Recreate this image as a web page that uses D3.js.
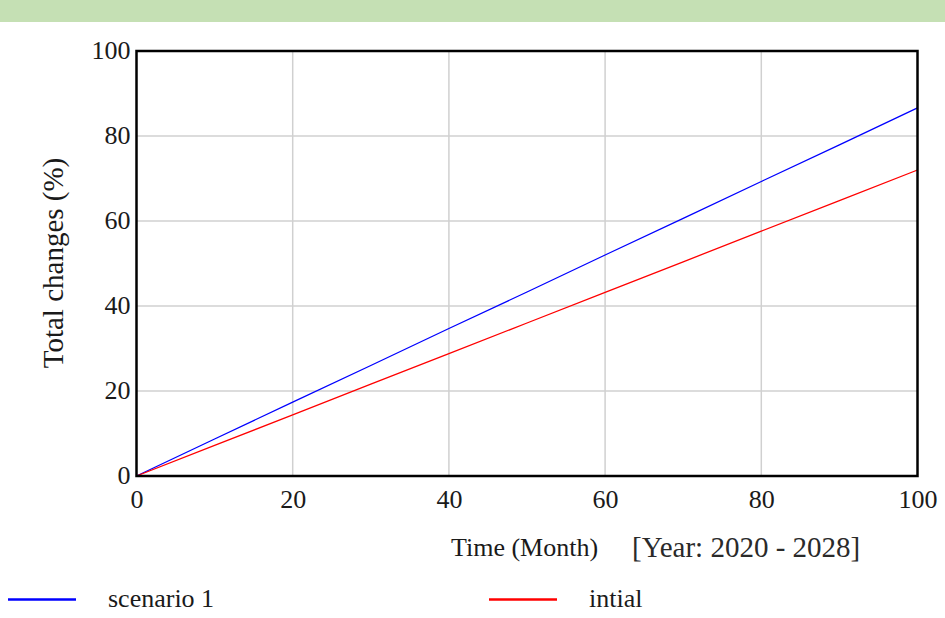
<!DOCTYPE html>
<html>
<head>
<meta charset="utf-8">
<script src="https://cdn.jsdelivr.net/npm/d3@7"></script>
<style>
  html, body { margin: 0; padding: 0; background: #fff; }
  svg { display: block; }
</style>
</head>
<body>
<svg id="chart" width="945" height="618"></svg>
<script>
const months = [0, 10, 20, 30, 40, 50, 60, 70, 80, 90, 100];
const scenario1 = [0, 8.7, 17.4, 26.0, 34.7, 43.3, 52.0, 60.6, 69.3, 77.9, 86.6];
const initial   = [0, 7.2, 14.4, 21.6, 28.8, 36.0, 43.2, 50.4, 57.6, 64.8, 72.0];
const xTicks = [0, 20, 40, 60, 80, 100];
const yTicks = [0, 20, 40, 60, 80, 100];
const seriesNames = ["scenario 1", "intial"];
const seriesColors = ["#0000ff", "#ff0000"];

(function () {
const svg = d3.select("#chart");
const font = "'Liberation Serif', 'Times New Roman', serif";
const textColor = "#1a1a1a";

// top green band
svg.append("rect").attr("x", 0).attr("y", 0).attr("width", 945).attr("height", 22)
  .attr("fill", "#c5e0b4");

const pL = 136.5, pR = 917.5, pT = 51, pB = 476;
const x = d3.scaleLinear().domain([0, 100]).range([pL, pR]);
const y = d3.scaleLinear().domain([0, 100]).range([pB, pT]);

// grid
const g = svg.append("g");
g.selectAll(".vg").data(xTicks.slice(1, -1)).enter().append("line")
  .attr("x1", d => x(d)).attr("x2", d => x(d)).attr("y1", pT).attr("y2", pB)
  .attr("stroke", "#d0d0d0").attr("stroke-width", 1.5);
g.selectAll(".hg").data(yTicks.slice(1, -1)).enter().append("line")
  .attr("y1", d => y(d)).attr("y2", d => y(d)).attr("x1", pL).attr("x2", pR)
  .attr("stroke", "#d0d0d0").attr("stroke-width", 1.5);

// lines
const line = d3.line().x((d, i) => x(months[i])).y(d => y(d));
[scenario1, initial].forEach((s, k) => {
  svg.append("path").datum(s).attr("d", line)
    .attr("fill", "none").attr("stroke", seriesColors[k]).attr("stroke-width", 1.3);
});

// frame
svg.append("rect").attr("x", pL).attr("y", pT).attr("width", pR - pL).attr("height", pB - pT)
  .attr("fill", "none").attr("stroke", "#000").attr("stroke-width", 2.5);

// axes (labels only)
const xAxis = d3.axisBottom(x).tickValues(xTicks).tickSize(0).tickPadding(8);
const xa = svg.append("g").attr("transform", `translate(0,${pB})`).call(xAxis);
xa.select(".domain").remove();
xa.attr("font-family", font).attr("font-size", 26);
xa.selectAll("text").attr("fill", textColor).attr("dy", null).attr("y", 32);

const yAxis = d3.axisLeft(y).tickValues(yTicks).tickSize(0).tickPadding(8);
const ya = svg.append("g").attr("transform", `translate(${pL},0)`).call(yAxis);
ya.select(".domain").remove();
ya.attr("font-family", font).attr("font-size", 26);
ya.selectAll("text").attr("fill", textColor).attr("x", -6).attr("dy", "0.3em");

// axis titles
svg.append("text").attr("transform", "translate(63,263) rotate(-90)")
  .attr("text-anchor", "middle").attr("font-family", font).attr("font-size", 29)
  .attr("fill", textColor).text("Total changes (%)");

svg.append("text").attr("x", 451).attr("y", 556)
  .attr("font-family", font).attr("font-size", 26).attr("fill", textColor).text("Time (Month)");
svg.append("text").attr("x", 632).attr("y", 557)
  .attr("font-family", font).attr("font-size", 29).attr("fill", "#2a2a2a").text("[Year: 2020 - 2028]");

// legend
const legendX = [8, 489];
seriesNames.forEach((name, k) => {
  svg.append("line").attr("x1", legendX[k]).attr("x2", legendX[k] + 68)
    .attr("y1", 599.5).attr("y2", 599.5).attr("stroke", seriesColors[k]).attr("stroke-width", 2.5);
  svg.append("text").attr("x", legendX[k] + 100).attr("y", 607)
    .attr("font-family", font).attr("font-size", 26).attr("fill", textColor).text(name);
});
})();
</script>
</body>
</html>
